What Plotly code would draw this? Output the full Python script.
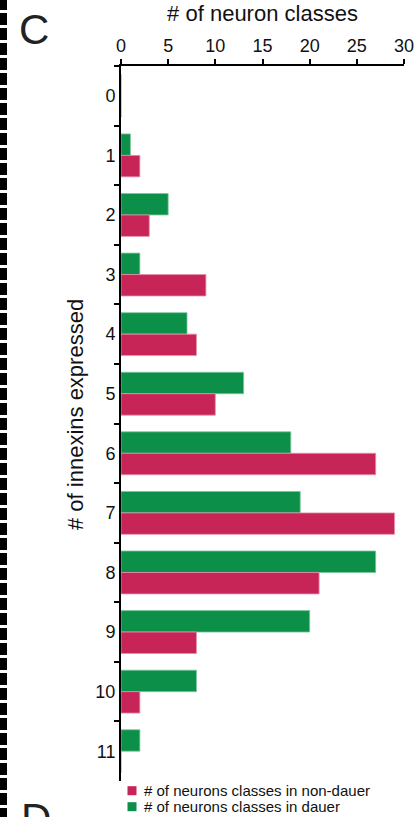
import plotly.graph_objects as go

# Number of innexins expressed per neuron class (categories, top to bottom)
innexin_counts = ["0", "1", "2", "3", "4", "5", "6", "7", "8", "9", "10", "11"]

# Number of neuron classes in each category
dauer_classes = [0, 1, 5, 2, 7, 13, 18, 19, 27, 20, 8, 2]
nondauer_classes = [0, 2, 3, 9, 8, 10, 27, 29, 21, 8, 2, 0]

x_ticks = [0, 5, 10, 15, 20, 25, 30]

DAUER_GREEN = "#0b8f49"
NONDAUER_MAGENTA = "#c72558"
FONT = "Liberation Sans"

W, H = 417, 817
ML, MR, MT, MB = 121, 13, 66, 36
PW, PH = W - ML - MR, H - MT - MB


def px(x):
    """Pixel column -> paper x."""
    return (x - ML) / PW


def py(y):
    """Pixel row -> paper y."""
    return (H - MB - y) / PH


fig = go.Figure()
fig.add_trace(go.Bar(
    y=innexin_counts, x=dauer_classes, orientation="h",
    name="# of neurons classes in dauer",
    marker=dict(color=DAUER_GREEN, line=dict(color="#7cc79c", width=0.8)),
    showlegend=False,
))
fig.add_trace(go.Bar(
    y=innexin_counts, x=nondauer_classes, orientation="h",
    name="# of neurons classes in non-dauer",
    marker=dict(color=NONDAUER_MAGENTA, line=dict(color="#e98fab", width=0.8)),
    showlegend=False,
))

fig.update_layout(
    width=W, height=H,
    margin=dict(l=ML, r=MR, t=MT, b=MB, pad=0, autoexpand=False),
    paper_bgcolor="white", plot_bgcolor="white",
    barmode="group", bargap=0.28, bargroupgap=0,
    font=dict(family=FONT, color="#111111"),
    xaxis=dict(
        side="top", range=[0, 30], tickmode="array", tickvals=x_ticks,
        automargin=False, ticklabeloverflow="allow",
        ticks="outside", ticklen=5, tickwidth=2, tickcolor="black",
        showline=True, linewidth=2, linecolor="black",
        showgrid=False, zeroline=False,
        tickfont=dict(size=18, family=FONT, color="#111111"),
        title=dict(text="# of neuron classes", standoff=8,
                   font=dict(size=22, family=FONT, color="#111111")),
    ),
    yaxis=dict(
        type="category", categoryorder="array", categoryarray=innexin_counts,
        autorange="reversed", tickson="boundaries", automargin=False,
        ticks="outside", ticklen=5, tickwidth=2, tickcolor="black",
        showline=True, linewidth=2, linecolor="black",
        showgrid=False, zeroline=False,
        tickfont=dict(size=18, family=FONT, color="#111111"),
    ),
)

# Y-axis title, set slightly above the plot's vertical centre
fig.add_annotation(xref="paper", yref="paper", x=px(75), y=py(415),
                   xanchor="center", yanchor="middle", showarrow=False,
                   textangle=-90, text="# of innexins expressed",
                   font=dict(size=22, family=FONT, color="#111111"))

# Legend: swatches and labels below the plot
legend_rows = [
    (790.7, NONDAUER_MAGENTA, "# of neurons classes in non-dauer"),
    (806.7, DAUER_GREEN, "# of neurons classes in dauer"),
]
for yc, color, label in legend_rows:
    fig.add_shape(type="rect", xref="paper", yref="paper",
                  x0=px(127.5), x1=px(136.5), y0=py(yc - 4.5), y1=py(yc + 4.5),
                  fillcolor=color, line=dict(width=0))
    fig.add_annotation(xref="paper", yref="paper", x=px(142), y=py(yc),
                       xanchor="left", yanchor="middle", showarrow=False,
                       text=label, font=dict(size=15, family=FONT, color="#111111"))

# Panel letters
fig.add_annotation(xref="paper", yref="paper", x=px(17), y=py(4),
                   xanchor="left", yanchor="top", showarrow=False,
                   text="C", font=dict(size=42, family=FONT, color="#222222"))
fig.add_annotation(xref="paper", yref="paper", x=px(19), y=py(793),
                   xanchor="left", yanchor="top", showarrow=False,
                   text="D", font=dict(size=42, family=FONT, color="#222222"))

# Dashed border strip along the left edge
fig.add_shape(type="line", xref="paper", yref="paper",
              x0=px(3.5), x1=px(3.5), y0=py(-2), y1=py(H + 2),
              line=dict(color="black", width=7, dash="12px,3px"))

fig.write_html("out.html")
